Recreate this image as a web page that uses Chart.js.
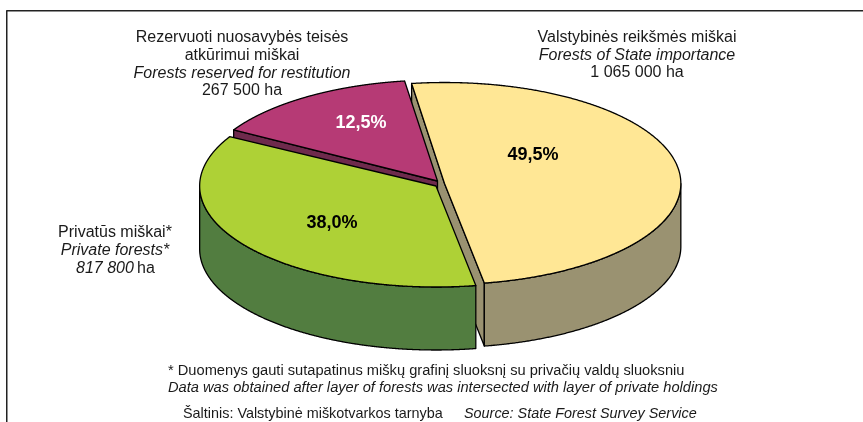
<!DOCTYPE html>
<html>
<head>
<meta charset="utf-8">
<script src="https://cdn.jsdelivr.net/npm/chart.js@4"></script>
<style>html,body{margin:0;padding:0;background:#fff}canvas{display:block}</style>
</head>
<body>
<canvas id="c" width="863" height="422"></canvas>
<script>
const categories = ["Valstybinės reikšmės miškai", "Privatūs miškai", "Rezervuoti nuosavybės teisės atkūrimui miškai"];
const hectares = [1065000, 817800, 267500];
const percentLabels = ["49,5%", "38,0%", "12,5%"];
const topColors = ["#FFE795", "#AED136", "#B63A75"];
const sideColors = ["#9A9271", "#527D40", "#6E2A4C"];
const labelColors = ["#000000", "#000000", "#FFFFFF"];

const FONT = '"Liberation Sans", Arial, sans-serif';
const REG = 16, FOOT = 14.67, SRC = 14.4;
const notes = [
  {x:242, y:42, t:"Rezervuoti nuosavybės teisės", s:"", a:"center", z:REG},
  {x:242, y:60, t:"atkūrimui miškai", s:"", a:"center", z:REG},
  {x:242, y:78, t:"Forests reserved for restitution", s:"italic", a:"center", z:REG},
  {x:242, y:95, t:"267 500 ha", s:"", a:"center", z:REG},
  {x:637, y:42, t:"Valstybinės reikšmės miškai", s:"", a:"center", z:REG},
  {x:637, y:60, t:"Forests of State importance", s:"italic", a:"center", z:REG},
  {x:637, y:77, t:"1 065 000 ha", s:"", a:"center", z:REG},
  {x:115, y:237, t:"Privatūs miškai*", s:"", a:"center", z:REG},
  {x:115, y:255, t:"Private forests*", s:"italic", a:"center", z:REG},
  {x:76, y:273, t:"817 800", s:"italic", a:"left", z:REG},
  {x:137, y:273, t:"ha", s:"", a:"left", z:REG},
  {x:168, y:375, t:"* Duomenys gauti sutapatinus miškų grafinį sluoksnį su privačių valdų sluoksniu", s:"", a:"left", z:FOOT},
  {x:168, y:392, t:"Data was obtained after layer of forests was intersected with layer of private holdings", s:"italic", a:"left", z:FOOT},
  {x:183, y:418, t:"Šaltinis: Valstybinė miškotvarkos tarnyba", s:"", a:"left", z:SRC},
  {x:464, y:418, t:"Source: State Forest Survey Service", s:"italic", a:"left", z:SRC}
];

const pie3d = {
  id: "pie3d",
  beforeDatasetsDraw(chart) {
    const ctx = chart.ctx;
    const arcs = chart.getDatasetMeta(0).data;
    const R = arcs[0].outerRadius, rx = R * 2.34, ry = R, depth = 63;
    const shift = [{x:8.5,y:-2.5},{x:0,y:0},{x:1.5,y:-5}];
    const skew = [0, 0.2, 0.17];
    const a0 = arcs[0].endAngle, span = 2*Math.PI - (arcs[0].endAngle - arcs[0].startAngle);
    const warp = (a, i) => a - skew[i] * Math.sin(Math.PI * (a - a0) / span);
    const geo = arcs.map((el, i) => {
      const cx = el.x + shift[i].x, cy = el.y + shift[i].y;
      const pt = a => ({x: cx + rx*Math.cos(warp(a,i)), y: cy + ry*Math.sin(warp(a,i))});
      return {el, cx, cy, pt, s: el.startAngle, e: el.endAngle};
    });
    const poly = (pts, fill) => {
      ctx.beginPath();
      pts.forEach((p, k) => k ? ctx.lineTo(p.x, p.y) : ctx.moveTo(p.x, p.y));
      ctx.closePath();
      ctx.fillStyle = fill; ctx.fill();
      ctx.strokeStyle = "#000"; ctx.lineWidth = 1.3; ctx.lineJoin = "round"; ctx.stroke();
    };
    const down = p => ({x:p.x, y:p.y + depth});
    const samples = g => { const o = []; for (let k=0;k<=600;k++) o.push(g.s + (g.e-g.s)*k/600); return o; };
    const topFace = i => { const g = geo[i]; poly([{x:g.cx,y:g.cy}, ...samples(g).map(g.pt)], topColors[i]); };
    const sideFace = i => {
      const g = geo[i];
      const rim = samples(g).filter(a => Math.sin(warp(a,i)) >= 0).map(g.pt);
      poly([...rim, ...rim.slice().reverse().map(down)], sideColors[i]);
    };
    const wall = (i, list) => {
      poly([...list, ...list.slice().reverse().map(down)], sideColors[i]);
    };
    const Y = geo[0], G = geo[1], M = geo[2];
    wall(0, [Y.pt(Y.s), {x:Y.cx,y:Y.cy}, Y.pt(Y.e)]);
    wall(2, [M.pt(M.s), {x:M.cx,y:M.cy}]);
    topFace(2);
    sideFace(1);
    topFace(1);
    sideFace(0);
    topFace(0);
    return false;
  },
  afterDraw(chart) {
    const ctx = chart.ctx;
    ctx.save();
    ctx.strokeStyle = "#222"; ctx.lineWidth = 1.5;
    ctx.beginPath(); ctx.moveTo(6.75, 422); ctx.lineTo(6.75, 10.75); ctx.lineTo(863, 10.75); ctx.stroke();
    ctx.textBaseline = "alphabetic";
    ctx.fillStyle = "#1a1a1a";
    notes.forEach(n => {
      ctx.font = `${n.s} ${n.z}px ${FONT}`;
      ctx.textAlign = n.a;
      ctx.fillText(n.t, n.x, n.y);
    });
    const arcs = chart.getDatasetMeta(0).data;
    const anchor = [{x:97,y:-31},{x:-104,y:37},{x:-75,y:-63}];
    ctx.font = `bold 18px ${FONT}`;
    ctx.textAlign = "center";
    ctx.textBaseline = "middle";
    arcs.forEach((el, i) => {
      ctx.fillStyle = labelColors[i];
      ctx.fillText(percentLabels[i], el.x + anchor[i].x, el.y + anchor[i].y);
    });
    ctx.restore();
  }
};

new Chart(document.getElementById("c"), {
  type: "pie",
  data: { labels: categories, datasets: [{ data: hectares, backgroundColor: topColors, borderWidth: 0 }] },
  options: {
    responsive: false,
    animation: false,
    rotation: -8,
    events: [],
    layout: { padding: { left: 335, right: 326, top: 85, bottom: 135 } },
    plugins: { legend: { display: false }, tooltip: { enabled: false } }
  },
  plugins: [pie3d]
});
</script>
</body>
</html>
